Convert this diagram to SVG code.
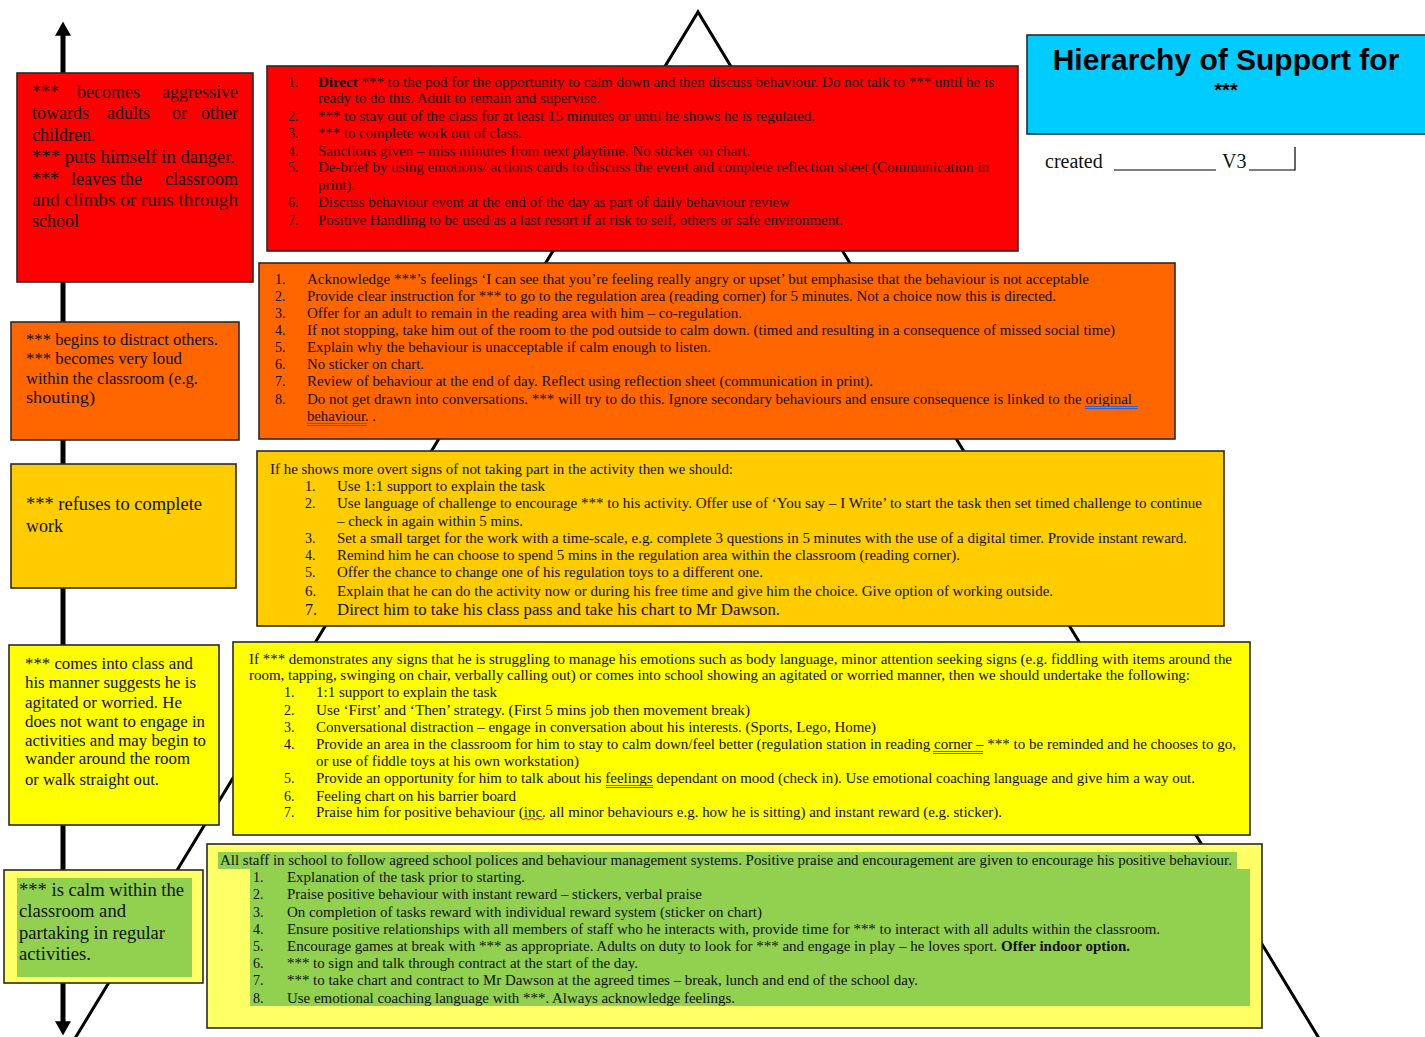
<svg xmlns="http://www.w3.org/2000/svg" width="1425" height="1037" viewBox="0 0 1425 1037">
<defs>
<style>
.bx{stroke:#2a2a2a;stroke-width:1.6}
.t{font-family:"Liberation Serif","Times New Roman",serif;font-size:14px;fill:#111}
.t16{font-family:"Liberation Serif","Times New Roman",serif;font-size:16px;fill:#111}
.l{font-family:"Liberation Serif","Times New Roman",serif;font-size:18px;fill:#111}
.l16{font-family:"Liberation Serif","Times New Roman",serif;font-size:16px;fill:#111}
.l19{font-family:"Liberation Serif","Times New Roman",serif;font-size:19px;fill:#111}
.ttl{font-family:"Liberation Sans",Arial,sans-serif;font-weight:bold;fill:#000}
.sp{stroke:#2f5fd0;stroke-width:1;fill:none}
</style>
<marker id="ah" viewBox="0 0 10 10" refX="0.5" refY="5" markerWidth="3.2" markerHeight="3.2" orient="auto-start-reverse" markerUnits="strokeWidth">
<path d="M0,0 L9,5 L0,10 z" fill="#000"/>
</marker>
</defs>
<rect width="1425" height="1037" fill="#fff"/>

<g id="pyramid">
<polyline points="74,1040 698,12 1320,1040" fill="none" stroke="#000" stroke-width="3"/>
</g>

<g id="connectors">
<line x1="63" y1="35" x2="63" y2="1022" stroke="#000" stroke-width="5" marker-start="url(#ah)" marker-end="url(#ah)"/>
</g>

<g id="title">
<rect class="bx" x="1027" y="35" width="400" height="99" fill="#00ccff"/>
<text class="ttl" x="1226" y="70" font-size="30" text-anchor="middle">Hierarchy of Support for</text>
<text class="ttl" x="1226" y="97" font-size="20" text-anchor="middle">***</text>
<text class="l" x="1045" y="168" style="font-size:20px">created</text>
<line x1="1114" y1="170" x2="1216" y2="170" stroke="#000" stroke-width="1.2"/>
<text class="l" x="1222" y="168" style="font-size:20px">V3</text>
<line x1="1249" y1="170" x2="1295" y2="170" stroke="#000" stroke-width="1.2"/>
<line x1="1295" y1="147" x2="1295" y2="170.5" stroke="#000" stroke-width="1.2"/>
</g>

<g id="left-red">
<rect class="bx" x="17" y="73" width="236" height="209" fill="#ff0000"/>
<text class="l" x="32" y="98">***</text>
<text class="l" x="77" y="98">becomes</text>
<text class="l" x="238" y="98" text-anchor="end">aggressive</text>
<text class="l" x="32" y="119">towards</text>
<text class="l" x="107" y="119">adults</text>
<text class="l" x="172" y="119">or</text>
<text class="l" x="238" y="119" text-anchor="end">other</text>
<text class="l" x="32" y="141">children.</text>
<text class="l" x="32" y="163" textLength="203" lengthAdjust="spacingAndGlyphs">*** puts himself in danger.</text>
<text class="l" x="32" y="185">***</text>
<text class="l" x="71" y="185">leaves</text>
<text class="l" x="120" y="185">the</text>
<text class="l" x="238" y="185" text-anchor="end">classroom</text>
<text class="l" x="32" y="206" textLength="206" lengthAdjust="spacingAndGlyphs">and climbs or runs through</text>
<text class="l" x="32" y="227">school</text>
</g>

<g id="left-orange">
<rect class="bx" x="11" y="322" width="228" height="118" fill="#ff6600"/>
<text class="l16" x="26" y="345" textLength="192" lengthAdjust="spacingAndGlyphs">*** begins to distract others.</text>
<text class="l16" x="26" y="364" textLength="156" lengthAdjust="spacingAndGlyphs">*** becomes very loud</text>
<text class="l16" x="26" y="384" textLength="172" lengthAdjust="spacingAndGlyphs">within the classroom (e.g.</text>
<text class="l16" x="26" y="403" textLength="69" lengthAdjust="spacingAndGlyphs">shouting)</text>
</g>

<g id="left-amber">
<rect class="bx" x="11" y="464" width="225" height="124" fill="#ffcc00"/>
<text class="l19" x="26" y="510" textLength="176" lengthAdjust="spacingAndGlyphs">*** refuses to complete</text>
<text class="l19" x="26" y="532" textLength="37" lengthAdjust="spacingAndGlyphs">work</text>
</g>

<g id="left-yellow">
<rect class="bx" x="9" y="645" width="210" height="180" fill="#ffff00"/>
<text class="l16" x="25" y="669" textLength="168" lengthAdjust="spacingAndGlyphs">*** comes into class and</text>
<text class="l16" x="25" y="688" textLength="171" lengthAdjust="spacingAndGlyphs">his manner suggests he is</text>
<text class="l16" x="25" y="708" textLength="157" lengthAdjust="spacingAndGlyphs">agitated or worried. He</text>
<text class="l16" x="25" y="727" textLength="180" lengthAdjust="spacingAndGlyphs">does not want to engage in</text>
<text class="l16" x="25" y="746" textLength="181" lengthAdjust="spacingAndGlyphs">activities and may begin to</text>
<text class="l16" x="25" y="764" textLength="165" lengthAdjust="spacingAndGlyphs">wander around the room</text>
<text class="l16" x="25" y="785" textLength="134" lengthAdjust="spacingAndGlyphs">or walk straight out.</text>
</g>

<g id="left-green">
<rect class="bx" x="4" y="870" width="199" height="113" fill="#ffff66"/>
<rect x="17" y="878" width="175" height="99" fill="#92d050"/>
<text class="l19" x="19" y="896" textLength="165" lengthAdjust="spacingAndGlyphs">*** is calm within the</text>
<text class="l19" x="19" y="917" textLength="107" lengthAdjust="spacingAndGlyphs">classroom and</text>
<text class="l19" x="19" y="939" textLength="146" lengthAdjust="spacingAndGlyphs">partaking in regular</text>
<text class="l19" x="19" y="960" textLength="72" lengthAdjust="spacingAndGlyphs">activities.</text>
</g>

<g id="box-red">
<rect class="bx" x="267" y="66" width="751" height="185" fill="#ff0000"/>
<g class="t">
<text x="288" y="87">1.</text>
<text x="318" y="87" textLength="676" lengthAdjust="spacingAndGlyphs"><tspan font-weight="bold">Direct</tspan> *** to the pod for the opportunity to calm down and then discuss behaviour. Do not talk to *** until he is</text>
<text x="318" y="103" textLength="282" lengthAdjust="spacingAndGlyphs">ready to do this. Adult to remain and supervise.</text>
<text x="288" y="121">2.</text>
<text x="318" y="121" textLength="497" lengthAdjust="spacingAndGlyphs">*** to stay out of the class for at least 15 minutes or until he shows he is regulated.</text>
<text x="288" y="138">3.</text>
<text x="318" y="138" textLength="204" lengthAdjust="spacingAndGlyphs">*** to complete work out of class.</text>
<text x="288" y="156">4.</text>
<text x="318" y="156" textLength="432" lengthAdjust="spacingAndGlyphs">Sanctions given – miss minutes from next playtime. No sticker on chart.</text>
<text x="288" y="172">5.</text>
<text x="318" y="172" textLength="671" lengthAdjust="spacingAndGlyphs">De-brief by using emotions/ actions cards to discuss the event and complete reflection sheet (Communication in</text>
<text x="318" y="190" textLength="37" lengthAdjust="spacingAndGlyphs">print).</text>
<text x="288" y="207">6.</text>
<text x="318" y="207" textLength="472" lengthAdjust="spacingAndGlyphs">Discuss behaviour event at the end of the day as part of daily behaviour review</text>
<text x="288" y="225">7.</text>
<text x="318" y="225" textLength="525" lengthAdjust="spacingAndGlyphs">Positive Handling to be used as a last resort if at risk to self, others or safe environment.</text>
</g>
</g>

<g id="box-orange">
<rect class="bx" x="259" y="263" width="916" height="176" fill="#ff6600"/>
<g class="t">
<text x="275" y="284">1.</text>
<text x="307" y="284" textLength="782" lengthAdjust="spacingAndGlyphs">Acknowledge ***’s feelings ‘I can see that you’re feeling really angry or upset’ but emphasise that the behaviour is not acceptable</text>
<text x="275" y="301">2.</text>
<text x="307" y="301" textLength="749" lengthAdjust="spacingAndGlyphs">Provide clear instruction for *** to go to the regulation area (reading corner) for 5 minutes. Not a choice now this is directed.</text>
<text x="275" y="318">3.</text>
<text x="307" y="318" textLength="435" lengthAdjust="spacingAndGlyphs">Offer for an adult to remain in the reading area with him – co-regulation.</text>
<text x="275" y="335">4.</text>
<text x="307" y="335" textLength="808" lengthAdjust="spacingAndGlyphs">If not stopping, take him out of the room to the pod outside to calm down. (timed and resulting in a consequence of missed social time)</text>
<text x="275" y="352">5.</text>
<text x="307" y="352" textLength="404" lengthAdjust="spacingAndGlyphs">Explain why the behaviour is unacceptable if calm enough to listen.</text>
<text x="275" y="369">6.</text>
<text x="307" y="369" textLength="117" lengthAdjust="spacingAndGlyphs">No sticker on chart.</text>
<text x="275" y="386">7.</text>
<text x="307" y="386" textLength="566" lengthAdjust="spacingAndGlyphs">Review of behaviour at the end of day. Reflect using reflection sheet (communication in print).</text>
<text x="275" y="404">8.</text>
<text x="307" y="404" textLength="825" lengthAdjust="spacingAndGlyphs">Do not get drawn into conversations. *** will try to do this. Ignore secondary behaviours and ensure consequence is linked to the original</text>
<text x="307" y="421" textLength="69" lengthAdjust="spacingAndGlyphs">behaviour. .</text>
</g>
<path class="sp" d="M1085,406.5 H1138 M1085,408.5 H1138 M307,423.5 H367 M307,425.5 H367"/>
</g>

<g id="box-amber">
<rect class="bx" x="257" y="451" width="967" height="175" fill="#ffcc00"/>
<g class="t">
<text x="270" y="474" textLength="463" lengthAdjust="spacingAndGlyphs">If he shows more overt signs of not taking part in the activity then we should:</text>
<text x="305" y="491">1.</text>
<text x="337" y="491" textLength="208" lengthAdjust="spacingAndGlyphs">Use 1:1 support to explain the task</text>
<text x="305" y="508">2.</text>
<text x="337" y="508" textLength="865" lengthAdjust="spacingAndGlyphs">Use language of challenge to encourage *** to his activity. Offer use of ‘You say – I Write’ to start the task then set timed challenge to continue</text>
<text x="337" y="526" textLength="186" lengthAdjust="spacingAndGlyphs">– check in again within 5 mins.</text>
<text x="305" y="543">3.</text>
<text x="337" y="543" textLength="850" lengthAdjust="spacingAndGlyphs">Set a small target for the work with a time-scale, e.g. complete 3 questions in 5 minutes with the use of a digital timer. Provide instant reward.</text>
<text x="305" y="560">4.</text>
<text x="337" y="560" textLength="623" lengthAdjust="spacingAndGlyphs">Remind him he can choose to spend 5 mins in the regulation area within the classroom (reading corner).</text>
<text x="305" y="577">5.</text>
<text x="337" y="577" textLength="426" lengthAdjust="spacingAndGlyphs">Offer the chance to change one of his regulation toys to a different one.</text>
<text x="305" y="596" style="font-size:15px">6.</text>
<text x="337" y="596" textLength="716" lengthAdjust="spacingAndGlyphs">Explain that he can do the activity now or during his free time and give him the choice. Give option of working outside.</text>
</g>
<text class="t16" x="305" y="615">7.</text>
<text class="t16" x="337" y="615" textLength="443" lengthAdjust="spacingAndGlyphs">Direct him to take his class pass and take his chart to Mr Dawson.</text>
</g>

<g id="box-yellow">
<rect class="bx" x="233" y="642" width="1017" height="193" fill="#ffff00"/>
<g class="t">
<text x="249" y="664" textLength="983" lengthAdjust="spacingAndGlyphs">If *** demonstrates any signs that he is struggling to manage his emotions such as body language, minor attention seeking signs (e.g. fiddling with items around the</text>
<text x="249" y="680" textLength="941" lengthAdjust="spacingAndGlyphs">room, tapping, swinging on chair, verbally calling out) or comes into school showing an agitated or worried manner, then we should undertake the following:</text>
<text x="284" y="697">1.</text>
<text x="316" y="697" textLength="181" lengthAdjust="spacingAndGlyphs">1:1 support to explain the task</text>
<text x="284" y="715">2.</text>
<text x="316" y="715" textLength="434" lengthAdjust="spacingAndGlyphs">Use ‘First’ and ‘Then’ strategy.  (First 5 mins job then movement break)</text>
<text x="284" y="732">3.</text>
<text x="316" y="732" textLength="560" lengthAdjust="spacingAndGlyphs">Conversational distraction – engage in conversation about his interests. (Sports, Lego, Home)</text>
<text x="284" y="749">4.</text>
<text x="316" y="749" textLength="920" lengthAdjust="spacingAndGlyphs">Provide an area in the classroom for him to stay to calm down/feel better (regulation station in reading corner – *** to be reminded and he chooses to go,</text>
<text x="316" y="766" textLength="263" lengthAdjust="spacingAndGlyphs">or use of fiddle toys at his own workstation)</text>
<text x="284" y="783">5.</text>
<text x="316" y="783" textLength="879" lengthAdjust="spacingAndGlyphs">Provide an opportunity for him to talk about his feelings dependant on mood (check in). Use emotional coaching language and give him a way out.</text>
<text x="284" y="801">6.</text>
<text x="316" y="801" textLength="200" lengthAdjust="spacingAndGlyphs">Feeling chart on his barrier board</text>
<text x="284" y="817">7.</text>
<text x="316" y="817" textLength="686" lengthAdjust="spacingAndGlyphs">Praise him for positive behaviour (inc. all minor behaviours e.g. how he is sitting) and instant reward (e.g. sticker).</text>
</g>
<path class="sp" d="M933,751.5 H983 M933,753.5 H983 M606,785.5 H653 M606,787.5 H653"/>
<path d="M523,820 l3,-2 l3,2 l3,-2 l3,2 l3,-2 l3,2 l3,-2" fill="none" stroke="#e02020" stroke-width="1"/>
</g>

<g id="box-green">
<rect class="bx" x="207" y="844" width="1055" height="184" fill="#ffff66"/>
<path d="M218,852 H1237 V869 H1250 V1006 H250 V869 H218 Z" fill="#92d050"/>
<g class="t">
<text x="220" y="865" textLength="1012" lengthAdjust="spacingAndGlyphs">All staff in school to follow agreed school polices and behaviour management systems. Positive praise and encouragement are given to encourage his positive behaviour.</text>
<text x="253" y="882">1.</text>
<text x="287" y="882" textLength="238" lengthAdjust="spacingAndGlyphs">Explanation of the task prior to starting.</text>
<text x="253" y="899">2.</text>
<text x="287" y="899" textLength="415" lengthAdjust="spacingAndGlyphs">Praise positive behaviour with instant reward – stickers, verbal praise</text>
<text x="253" y="917">3.</text>
<text x="287" y="917" textLength="475" lengthAdjust="spacingAndGlyphs">On completion of tasks reward with individual reward system (sticker on chart)</text>
<text x="253" y="934">4.</text>
<text x="287" y="934" textLength="873" lengthAdjust="spacingAndGlyphs">Ensure positive relationships with all members of staff who he interacts with, provide time for *** to interact with all adults within the classroom.</text>
<text x="253" y="951">5.</text>
<text x="287" y="951" textLength="843" lengthAdjust="spacingAndGlyphs">Encourage games at break with *** as appropriate. Adults on duty to look for *** and engage in play – he loves sport. <tspan font-weight="bold">Offer indoor option.</tspan></text>
<text x="253" y="968">6.</text>
<text x="287" y="968" textLength="351" lengthAdjust="spacingAndGlyphs">*** to sign and talk through contract at the start of the day.</text>
<text x="253" y="985">7.</text>
<text x="287" y="985" textLength="631" lengthAdjust="spacingAndGlyphs">*** to take chart and contract to Mr Dawson at the agreed times – break, lunch and end of the school day.</text>
<text x="253" y="1003">8.</text>
<text x="287" y="1003" textLength="448" lengthAdjust="spacingAndGlyphs">Use emotional coaching language with ***. Always acknowledge feelings.</text>
</g>
</g>
</svg>
